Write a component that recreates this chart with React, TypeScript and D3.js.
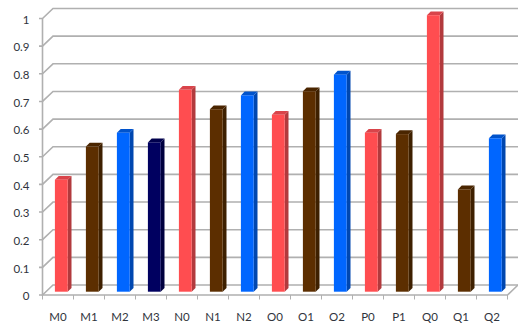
import React from "react";
import * as d3 from "d3";

const categories = ["M0","M1","M2","M3","N0","N1","N2","O0","O1","O2","P0","P1","Q0","Q1","Q2"];
const values = [0.405,0.525,0.575,0.54,0.73,0.66,0.71,0.64,0.725,0.785,0.575,0.57,1,0.37,0.555];
const groups = ["red","brown","blue","navy","red","brown","blue","red","brown","blue","red","brown","red","brown","blue"];
const yTicks = [0,0.1,0.2,0.3,0.4,0.5,0.6,0.7,0.8,0.9,1];
const faceColors: Record<string,string> = { red:"#ff4d50", brown:"#5c2e00", blue:"#0066ff", navy:"#000060" };
const sideColors: Record<string,string> = { red:"#b23a3d", brown:"#3e2000", blue:"#0047b0", navy:"#00003f" };
const topColors: Record<string,string> = { red:"#d9444a", brown:"#4a2500", blue:"#0053cc", navy:"#00004d" };

const W = 518, H = 327;
const x = d3.scaleBand<string>().domain(categories).range([42.5, 507.5]);
const y = d3.scaleLinear().domain([0, 1]).range([295, 18.5]);
const wallDx = 10.5, wallDy = -10;
const barInset = 12.4, barWidth = 12.8, barDepth = 3.8;
const barLift = 3.3;
const grid = "#b0b0b0";
const ink = "#30343c";
const fontFamily = "Lato, 'Open Sans', sans-serif";

export default function App() {
  const line = d3.line();
  return (
    <svg width={W} height={H} style={{ position: "fixed", left: 0, top: 0, background: "#fff" }}>
      {yTicks.map(t => {
        const yy = y(t);
        return (
          <g key={t}>
            <path d={line([[39, yy],[42.5, yy],[42.5 + wallDx, yy + wallDy],[W, yy + wallDy]]) ?? ""}
              fill="none" stroke={grid} strokeWidth={1.6} />
            <text x={29.5} y={yy + 2.3} textAnchor="end" dominantBaseline="middle"
              fontSize={11.5} fontFamily={fontFamily} fill={ink}>{String(t)}</text>
          </g>
        );
      })}
      <path d={line([[42.5, y(1)],[42.5, y(0)],[507.5, y(0)],[518, y(0) + wallDy]]) ?? ""}
        fill="none" stroke={grid} strokeWidth={1.6} />
      {categories.map((c, i) => {
        const x0 = x(c)!;
        return (
          <g key={c}>
            <line x1={x0} x2={x0} y1={y(0)} y2={y(0) + 4.5} stroke={grid} strokeWidth={1} />
            {i === categories.length - 1 && (
              <line x1={x0 + x.bandwidth()} x2={x0 + x.bandwidth()} y1={y(0)} y2={y(0) + 4.5} stroke={grid} strokeWidth={1} />
            )}
            <text x={x0 + x.bandwidth() / 2} y={318} textAnchor="middle" dominantBaseline="middle"
              fontSize={11.5} fontFamily={fontFamily} fill={ink}>{c}</text>
          </g>
        );
      })}
      {categories.map((c, i) => {
        const left = x(c)! + barInset;
        const right = left + barWidth;
        const bottom = y(0) - barLift;
        const top = y(values[i]) - barLift;
        const g = groups[i];
        return (
          <g key={c}>
            <polygon fill={sideColors[g]} points={`${right},${bottom} ${right + barDepth},${bottom - barDepth} ${right + barDepth},${top - barDepth} ${right},${top}`} />
            <polygon fill={topColors[g]} points={`${left},${top} ${left + barDepth},${top - barDepth} ${right + barDepth},${top - barDepth} ${right},${top}`} />
            <rect x={left} y={top} width={barWidth} height={bottom - top} fill={faceColors[g]} />
          </g>
        );
      })}
    </svg>
  );
}
